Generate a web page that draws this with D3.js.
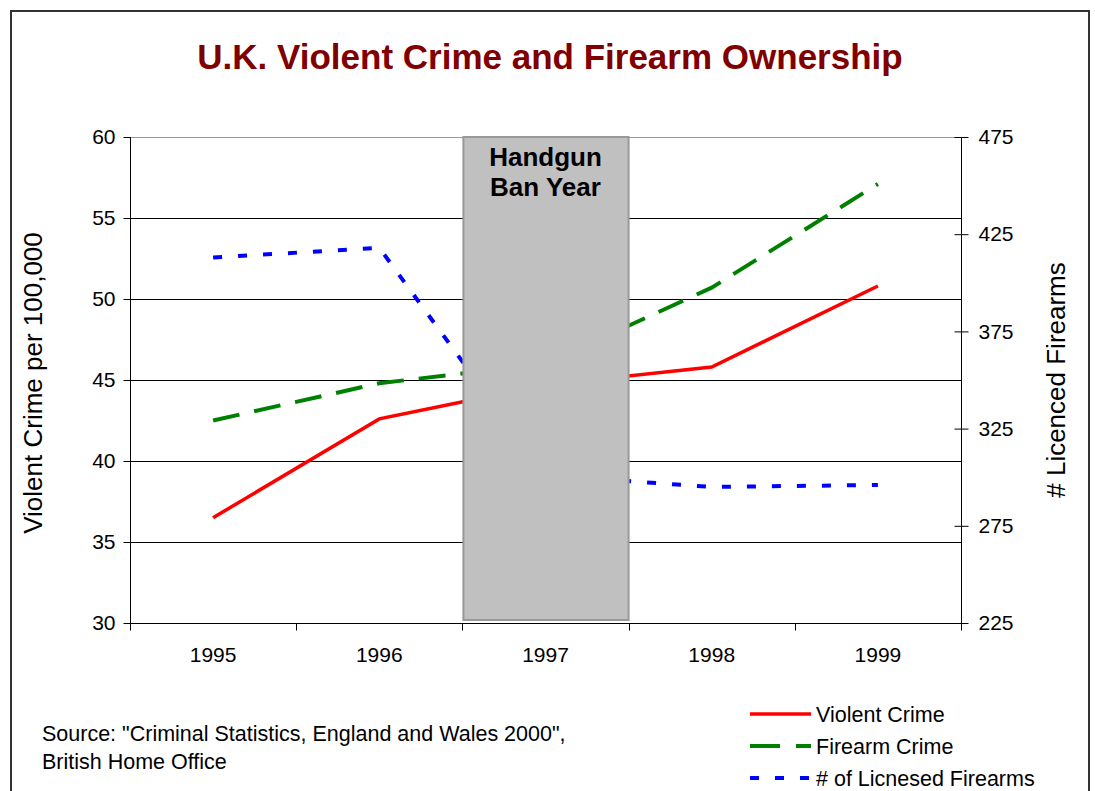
<!DOCTYPE html>
<html>
<head>
<meta charset="utf-8">
<script src="https://cdn.jsdelivr.net/npm/d3@7"></script>
<style>
  html, body { margin: 0; padding: 0; background: #fff; }
  svg { display: block; font-family: "Liberation Sans", Arial, sans-serif; }
</style>
</head>
<body>
<svg id="chart" width="1095" height="791"></svg>
<script>
const years = ["1995", "1996", "1997", "1998", "1999"];
const violentCrime = [36.5, 42.6, 44.7, 45.8, 50.8];
const firearmCrime = [42.5, 44.8, 46.0, 50.7, 57.1];
const licensedFirearms = [413, 418, 301, 295, 296];
const leftTicks = [30, 35, 40, 45, 50, 55, 60];
const rightTicks = [225, 275, 325, 375, 425, 475];
const banYear = "1997";

const svg = d3.select("#chart");
const L = 130, R = 961, T = 137, B = 623;
const FF = "Liberation Sans, Arial, sans-serif";

// outer border
svg.append("rect").attr("x", 11).attr("y", 11).attr("width", 1078).attr("height", 800)
  .attr("fill", "#fff").attr("stroke", "#333").attr("stroke-width", 2);

const x = d3.scaleBand().domain(years).range([L, R]);
const cx = d => x(d) + x.bandwidth() / 2;
const yL = d3.scaleLinear().domain([30, 60]).range([B, T]);
const yR = d3.scaleLinear().domain([225, 475]).range([B, T]);

// title
svg.append("text").attr("x", 550).attr("y", 69).attr("text-anchor", "middle")
  .attr("font-size", 35).attr("font-weight", "bold").attr("fill", "#800000")
  .text("U.K. Violent Crime and Firearm Ownership");

// gridlines
svg.append("g").selectAll("line").data(leftTicks.slice(1)).join("line")
  .attr("x1", L).attr("x2", R).attr("y1", d => Math.round(yL(d)) + 0.5).attr("y2", d => Math.round(yL(d)) + 0.5)
  .attr("stroke", d => d === 60 ? "#999" : "#000").attr("stroke-width", 1);

// lines
const series = [
  { vals: violentCrime, y: yL, color: "#ff0000", dash: null, w: 3.5 },
  { vals: firearmCrime, y: yL, color: "#008000", dash: "27,15", w: 4 },
  { vals: licensedFirearms, y: yR, color: "#0000ff", dash: "9,16", w: 4 }
];
series.forEach(s => {
  const line = d3.line().x((d, i) => cx(years[i])).y(d => s.y(d));
  svg.append("path").datum(s.vals).attr("d", line).attr("fill", "none")
    .attr("stroke", s.color).attr("stroke-width", s.w)
    .attr("stroke-dasharray", s.dash);
});

// ban year band
svg.append("rect").attr("x", x(banYear) + 1).attr("y", T).attr("width", x.bandwidth() - 1).attr("height", B - T - 3)
  .attr("fill", "#c0c0c0").attr("stroke", "#999").attr("stroke-width", 2);
svg.append("text").attr("x", cx(banYear)).attr("y", 166).attr("text-anchor", "middle")
  .attr("font-size", 26).attr("font-weight", "bold").attr("fill", "#000")
  .selectAll("tspan").data(["Handgun", "Ban Year"]).join("tspan")
  .attr("x", cx(banYear)).attr("dy", (d, i) => i === 0 ? 0 : 30).text(d => d);

// left axis
const gL = svg.append("g").attr("transform", `translate(${L + 0.5},0)`)
  .call(d3.axisLeft(yL).tickValues(leftTicks).tickSize(7).tickPadding(8).tickFormat(d3.format("d")));
gL.selectAll("text").attr("font-size", 21).attr("fill", "#000").attr("font-family", FF);
gL.selectAll("line, path").attr("stroke", "#000");
gL.select(".domain").attr("d", `M0,${T}V${B}`);

// right axis
const gR = svg.append("g").attr("transform", `translate(${R + 0.5},0)`)
  .call(d3.axisRight(yR).tickValues(rightTicks).tickSize(7).tickPadding(10).tickFormat(d3.format("d")));
gR.selectAll(".tick line").attr("x1", -7);
gR.selectAll("text").attr("font-size", 21).attr("fill", "#000").attr("font-family", FF);
gR.selectAll("line, path").attr("stroke", "#000");
gR.select(".domain").attr("d", `M0,${T}V${B}`);

// bottom axis
const gB = svg.append("g").attr("transform", `translate(0,${B + 0.5})`)
  .call(d3.axisBottom(x).tickSize(0).tickPadding(24));
gB.selectAll("text").attr("font-size", 21).attr("fill", "#000").attr("font-family", FF);
gB.select(".domain").attr("d", `M${L},0H${R}`).attr("stroke", "#000");
const bounds = years.map(d => x(d)).concat([R]);
gB.selectAll(".sep").data(bounds).join("line").attr("class", "sep")
  .attr("x1", d => Math.round(d) + 0.5).attr("x2", d => Math.round(d) + 0.5).attr("y1", 0).attr("y2", 7)
  .attr("stroke", "#000");

// axis titles
svg.append("text").attr("transform", `translate(42,${(T + B) / 2 + 3}) rotate(-90)`)
  .attr("text-anchor", "middle").attr("font-size", 26).attr("fill", "#000")
  .text("Violent Crime per 100,000");
svg.append("text").attr("transform", `translate(1065,${(T + B) / 2}) rotate(-90)`)
  .attr("text-anchor", "middle").attr("font-size", 26).attr("fill", "#000")
  .text("# Licenced Firearms");

// source
svg.append("text").attr("x", 42).attr("y", 741).attr("font-size", 21.5).attr("fill", "#000")
  .selectAll("tspan").data(['Source: "Criminal Statistics, England and Wales 2000",', "British Home Office"]).join("tspan")
  .attr("x", 42).attr("dy", (d, i) => i === 0 ? 0 : 28).text(d => d);

// legend
const legendNames = ["Violent Crime", "Firearm Crime", "# of Licnesed Firearms"];
const lg = svg.append("g");
legendNames.forEach((name, i) => {
  const s = series[i];
  const yy = 714 + i * 32;
  lg.append("line").attr("x1", 750).attr("x2", 811).attr("y1", yy).attr("y2", yy)
    .attr("stroke", s.color).attr("stroke-width", s.w)
    .attr("stroke-dasharray", i === 1 ? "30,16" : s.dash);
  lg.append("text").attr("x", 816).attr("y", yy + 8).attr("font-size", 21.5).attr("fill", "#000").text(name);
});
</script>
</body>
</html>
